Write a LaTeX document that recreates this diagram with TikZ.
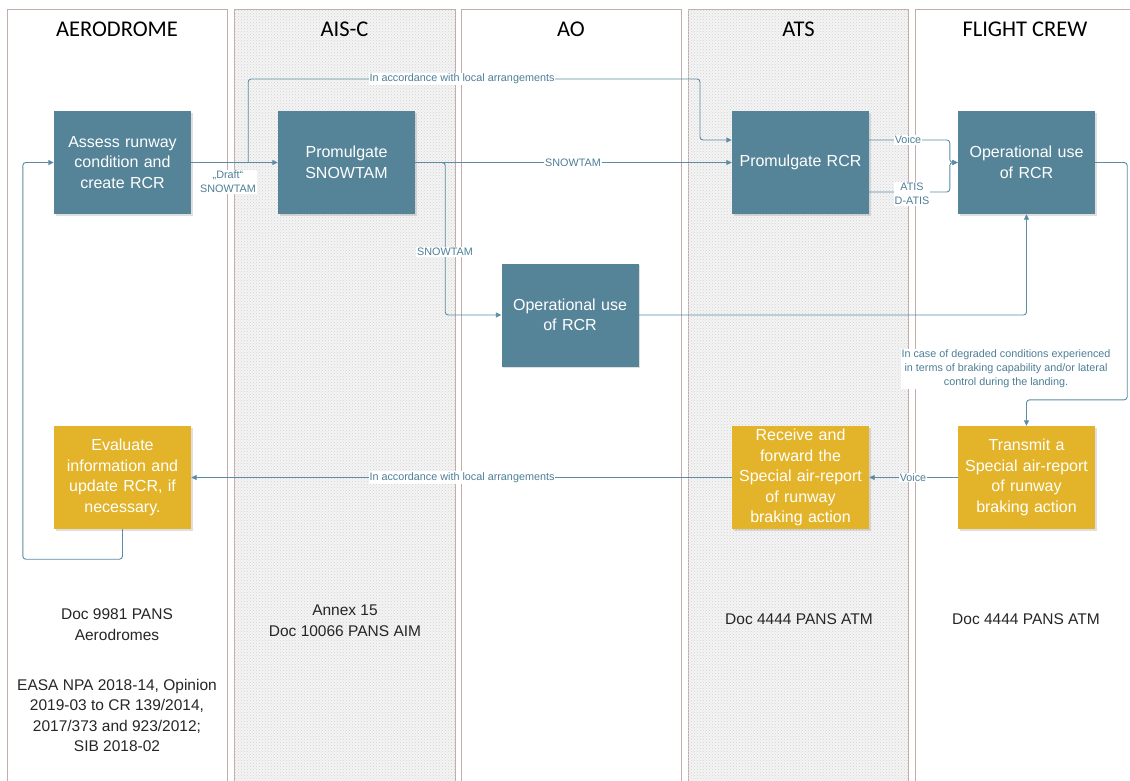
\documentclass[tikz,border=0pt]{standalone}
\usepackage{fontspec}
\setmainfont{Liberation Sans}
\newfontfamily\hdfont{Carlito}
\usetikzlibrary{arrows.meta,shadows,patterns,calc}
\definecolor{boxbluec}{HTML}{558498}
\definecolor{boxyelc}{HTML}{E3B429}
\definecolor{connc}{HTML}{5B8CA3}
\definecolor{lblc}{HTML}{4D7F97}
\definecolor{lanec}{HTML}{C4ACA8}
\definecolor{dotbgc}{HTML}{F4F4F4}
\begin{document}
\begin{tikzpicture}[x=1pt,y=-1pt,
  lanebox/.style={draw=lanec,line width=1pt},
  dotlane/.style={lanebox,fill=dotbgc,postaction={pattern=crosshatch dots,pattern color=gray!35}},
  procbox/.style={minimum width=137pt,minimum height=103pt,text width=134pt,align=center,inner sep=0pt,text=white,
    font=\fontsize{16}{20.5}\selectfont,
    drop shadow={opacity=0.25,shadow xshift=1.5pt,shadow yshift=-1.5pt}},
  bluebox/.style={procbox,fill=boxbluec},
  yelbox/.style={procbox,fill=boxyelc},
  lanehead/.style={font=\hdfont\fontsize{22.5}{27}\selectfont,text=black},
  link/.style={draw=connc,line width=0.9pt,rounded corners=3pt,-{Triangle[length=5.5pt,width=5pt]}},
  lbl/.style={fill=white,text=lblc,font=\fontsize{10.8}{14}\selectfont,inner sep=1pt,align=center},
  doc/.style={align=center,font=\fontsize{15.5}{20.5}\selectfont,text=black!85}
]
\useasboundingbox (0,0) rectangle (1130,780);
\fill[white] (0,0) rectangle (1130,780);
% lanes
\begin{scope}
\clip (0,0) rectangle (1130,780);
\draw[lanebox] (7,9) rectangle (227,790);
\draw[dotlane] (234,9) rectangle (455,790);
\draw[lanebox] (461,9) rectangle (681,790);
\draw[dotlane] (688,9) rectangle (908,790);
\draw[lanebox] (915,9) rectangle (1140,790);
\end{scope}
% headers
\node[lanehead] (hAD) at (117,29) {AERODROME};
\node[lanehead] (hAIS) at (344.5,29) {AIS-C};
\node[lanehead] (hAO) at (571,29) {AO};
\node[lanehead] (hATS) at (798.5,29) {ATS};
\node[lanehead] (hFC) at (1025,29) {FLIGHT CREW};
% boxes
\node[bluebox] (assess) at (122.5,162.5) {Assess runway\\condition and\\create RCR};
\node[bluebox] (promS) at (346.5,162.5) {Promulgate\\SNOWTAM};
\node[bluebox] (opAO) at (570,315) {Operational use\\of RCR};
\node[bluebox] (promR) at (800.5,162.5) {Promulgate RCR};
\node[bluebox] (opFC) at (1026.5,162.5) {Operational use\\of RCR};
\node[yelbox] (eval) at (122.5,477.5) {Evaluate\\information and\\update RCR, if\\necessary.};
\node[yelbox] (recv) at (800.5,477.5) {Receive and\\forward the\\Special air-report\\of runway\\braking action};
\node[yelbox] (trans) at (1026.5,477.5) {Transmit a\\Special air-report\\of runway\\braking action};
% connectors
\draw[link] (assess.east) -- (promS.west);
\draw[link] ([xshift=57pt]assess.east) |- (700,79) |- ([yshift=22.5pt]promR.west);
\draw[link] (promS.east) -- (promR.west);
\draw[link] (promS.east) -- ++(30,0) |- (opAO.west);
\draw[link] (opAO.east) -| (opFC.south);
\draw[link] ([yshift=22.5pt]promR.east) -| ([xshift=-8pt]opFC.west) -- (opFC.west);
\draw[link] ([yshift=-29.5pt]promR.east) -| ([xshift=-8pt]opFC.west) -- (opFC.west);
\draw[link] (opFC.east) -- ([xshift=32pt]opFC.east) |- ([yshift=26pt]trans.north) -- (trans.north);
\draw[link] (trans.west) -- (recv.east);
\draw[link] (recv.west) -- (eval.east);
\draw[link] (eval.south) -- ++(0,30) -| ([xshift=-31pt]assess.west) -- (assess.west);
% connector labels
\node[lbl] (lDraft) at (228,182) {„Draft“\\SNOWTAM};
\node[lbl] (lLoc1) at (462,79) {In accordance with local arrangements};
\node[lbl] (lSn1) at (573,162.5) {SNOWTAM};
\node[lbl] (lSn2) at (445,252) {SNOWTAM};
\node[lbl] (lVoice1) at (908,140) {Voice};
\node[lbl] (lAtis) at (912,194) {ATIS\\D-ATIS};
\node[lbl] (lCase) at (1006,369) {In case of degraded conditions experienced\\in terms of braking capability and/or lateral\\control during the landing.};
\node[lbl] (lVoice2) at (913,477.5) {Voice};
\node[lbl] (lLoc2) at (462,477.5) {In accordance with local arrangements};
% documents
\node[doc] (d1) at (117,624.5) {Doc 9981 PANS\\Aerodromes};
\node[doc] (d2) at (117,715.5) {EASA NPA 2018-14, Opinion\\2019-03 to CR 139/2014,\\2017/373 and 923/2012;\\SIB 2018-02};
\node[doc] (d3) at (345,620.5) {Annex 15\\Doc 10066 PANS AIM};
\node[doc] (d4) at (799,619) {Doc 4444 PANS ATM};
\node[doc] (d5) at (1026,619) {Doc 4444 PANS ATM};
\end{tikzpicture}
\end{document}
